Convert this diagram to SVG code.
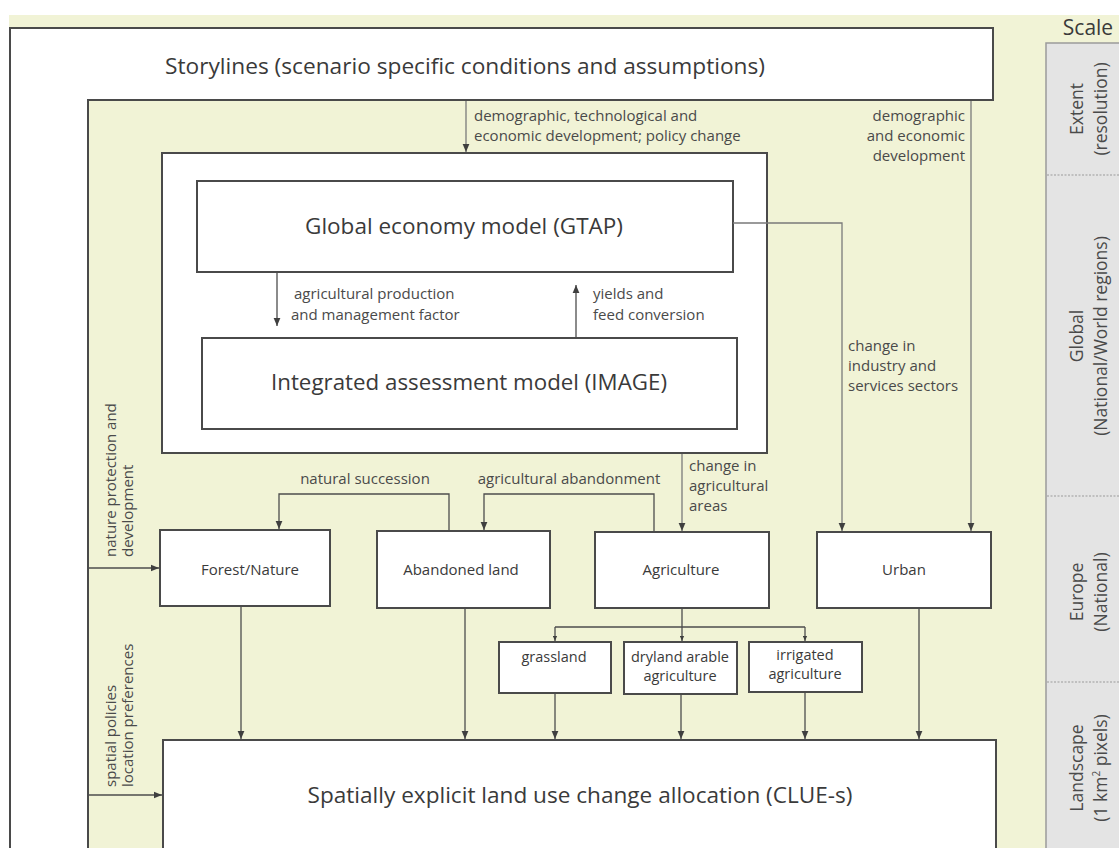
<svg xmlns="http://www.w3.org/2000/svg" width="1119" height="848" viewBox="0 0 1119 848">
  <style>
    text { font-family: "Open Sans", "Noto Sans", "Liberation Sans", sans-serif; fill: #3a3a3a; }
    .box { fill: #ffffff; stroke: #4a4a4a; stroke-width: 2; }
    .title { font-size: 21px; text-anchor: middle; }
    .node { font-size: 15px; text-anchor: middle; }
    .sub { font-size: 14.5px; text-anchor: middle; }
    .lbl { font-size: 15px; fill: #4a4a4a; }
    .lblr { font-size: 15px; fill: #4a4a4a; text-anchor: end; }
    .scale { font-size: 17.5px; fill: #4a4a4a; text-anchor: middle; }
    .conn path { fill: none; stroke: #4d4d4d; stroke-width: 1.3; }
    .conn .soft { stroke: #7a7a7a; }
    .conn .arr { marker-end: url(#arrow); }
    .conn .arrs { marker-end: url(#arrowSmall); }
  </style>
  <defs>
    <marker id="arrow" viewBox="0 0 10 10" refX="10" refY="5" markerWidth="8" markerHeight="8" orient="auto" markerUnits="userSpaceOnUse">
      <path d="M0,0.8 L10,5 L0,9.2 z" fill="#3f3f3f"/>
    </marker>
    <marker id="arrowSmall" viewBox="0 0 10 10" refX="10" refY="5" markerWidth="5" markerHeight="5" orient="auto" markerUnits="userSpaceOnUse">
      <path d="M0,0.8 L10,5 L0,9.2 z" fill="#3f3f3f"/>
    </marker>
  </defs>

  <!-- page background -->
  <rect x="0" y="0" width="1119" height="848" fill="#ffffff"/>
  <rect x="9" y="15" width="1110" height="833" fill="#f1f3d6"/>

  <!-- scale column -->
  <g id="scale">
    <text x="1088" y="35" style="font-size:21px;text-anchor:middle;fill:#3a3a3a">Scale</text>
    <rect x="1046" y="43" width="80" height="810" fill="#e4e4e4" stroke="#9a9a9a" stroke-width="1.5"/>
    <g stroke="#9a9a9a" stroke-width="1" stroke-dasharray="2 1.5">
      <line x1="1047" y1="175" x2="1119" y2="175"/>
      <line x1="1047" y1="496" x2="1119" y2="496"/>
      <line x1="1047" y1="682" x2="1119" y2="682"/>
    </g>
    <g transform="translate(1083,109) rotate(-90)"><text class="scale" x="0" y="0">Extent</text><text class="scale" x="0" y="24">(resolution)</text></g>
    <g transform="translate(1083,336) rotate(-90)"><text class="scale" x="0" y="0">Global</text><text class="scale" x="0" y="24">(National/World regions)</text></g>
    <g transform="translate(1083,592) rotate(-90)"><text class="scale" x="0" y="0">Europe</text><text class="scale" x="0" y="24">(National)</text></g>
    <g transform="translate(1083,768) rotate(-90)"><text class="scale" x="0" y="0">Landscape</text><text class="scale" x="0" y="24">(1 km<tspan dy="-7" style="font-size:10px">2</tspan><tspan dy="7"> pixels)</tspan></text></g>
  </g>

  <!-- storylines frame (runs down the left side) -->
  <g id="storylines">
    <path d="M10,860 V28 H993 V100 H88 V860" class="box"/>
    <text class="title" x="465" y="74" textLength="600" lengthAdjust="spacingAndGlyphs">Storylines (scenario specific conditions and assumptions)</text>
  </g>

  <!-- model container -->
  <g id="models">
    <rect x="162" y="153" width="605" height="300" class="box"/>
  </g>
  <g id="gtap">
    <rect x="197" y="181" width="536" height="91" class="box"/>
    <text class="title" x="464" y="234" textLength="318" lengthAdjust="spacingAndGlyphs">Global economy model (GTAP)</text>
  </g>
  <g id="image">
    <rect x="202" y="338" width="535" height="91" class="box"/>
    <text class="title" x="469" y="390" textLength="396" lengthAdjust="spacingAndGlyphs">Integrated assessment model (IMAGE)</text>
  </g>

  <!-- land use types -->
  <g id="forest">
    <rect x="160" y="530" width="170" height="76" class="box"/>
    <text class="node" x="250" y="575">Forest/Nature</text>
  </g>
  <g id="abandoned">
    <rect x="377" y="531" width="173" height="77" class="box"/>
    <text class="node" x="461" y="575">Abandoned land</text>
  </g>
  <g id="agriculture">
    <rect x="595" y="532" width="174" height="76" class="box"/>
    <text class="node" x="681" y="575">Agriculture</text>
  </g>
  <g id="urban">
    <rect x="817" y="532" width="174" height="76" class="box"/>
    <text class="node" x="904" y="575">Urban</text>
  </g>
  <g id="grassland">
    <rect x="499" y="642" width="112" height="51" class="box"/>
    <text class="sub" x="554" y="662">grassland</text>
  </g>
  <g id="dryland">
    <rect x="624" y="642" width="113" height="52" class="box"/>
    <text class="sub" x="680" y="662">dryland arable</text>
    <text class="sub" x="680" y="681">agriculture</text>
  </g>
  <g id="irrigated">
    <rect x="749" y="642" width="113" height="50" class="box"/>
    <text class="sub" x="805" y="660">irrigated</text>
    <text class="sub" x="805" y="679">agriculture</text>
  </g>

  <!-- allocation model -->
  <g id="clue">
    <rect x="163" y="740" width="833" height="130" class="box"/>
    <text class="title" x="580" y="803" textLength="545" lengthAdjust="spacingAndGlyphs">Spatially explicit land use change allocation (CLUE-s)</text>
  </g>

  <!-- connectors -->
  <g id="connectors" class="conn">
    <path class="soft arr" d="M466,101 V152"/>
    <path class="soft arr" d="M971,101 V531"/>
    <path class="soft arr" d="M733,223 H842 V531"/>
    <path class="arr" d="M277,273 V326"/>
    <path class="arr" d="M576,337 V285"/>
    <path class="soft arr" d="M682,454 V531"/>
    <path class="arr" d="M449,530 V494 H279 V529"/>
    <path class="arr" d="M654,531 V494 H484 V530"/>
    <path class="arr" d="M88,568 H159"/>
    <path class="arr" d="M88,795 H162"/>
    <path class="arr" d="M241,607 V739"/>
    <path class="arr" d="M465,609 V739"/>
    <path class="arr" d="M919,609 V739"/>
    <path d="M682,609 V627 M555,627 H805"/>
    <path class="arrs" d="M555,627 V641"/>
    <path class="arrs" d="M682,627 V641"/>
    <path class="arrs" d="M805,627 V641"/>
    <path class="arr" d="M555,694 V739"/>
    <path class="arr" d="M681,695 V739"/>
    <path class="arr" d="M805,693 V739"/>
  </g>

  <!-- connector labels -->
  <g id="labels">
    <text class="lbl" x="474" y="121">demographic, technological and</text>
    <text class="lbl" x="474" y="141">economic development; policy change</text>
    <text class="lblr" x="965" y="121">demographic</text>
    <text class="lblr" x="965" y="141">and economic</text>
    <text class="lblr" x="965" y="161">development</text>
    <text class="lbl" x="294" y="299">agricultural production</text>
    <text class="lbl" x="291" y="320">and management factor</text>
    <text class="lbl" x="593" y="299">yields and</text>
    <text class="lbl" x="593" y="320">feed conversion</text>
    <text class="lbl" x="848" y="351">change in</text>
    <text class="lbl" x="848" y="371">industry and</text>
    <text class="lbl" x="848" y="391">services sectors</text>
    <text class="lbl" x="689" y="471">change in</text>
    <text class="lbl" x="689" y="491">agricultural</text>
    <text class="lbl" x="689" y="511">areas</text>
    <text class="lbl" x="365" y="484" style="text-anchor:middle">natural succession</text>
    <text class="lbl" x="569" y="484" style="text-anchor:middle">agricultural abandonment</text>
    <g transform="translate(116,557) rotate(-90)"><text class="lbl" x="0" y="0">nature protection and</text><text class="lbl" x="0" y="17">development</text></g>
    <g transform="translate(116,787) rotate(-90)"><text class="lbl" x="0" y="0">spatial policies</text><text class="lbl" x="0" y="17">location preferences</text></g>
  </g>
</svg>
